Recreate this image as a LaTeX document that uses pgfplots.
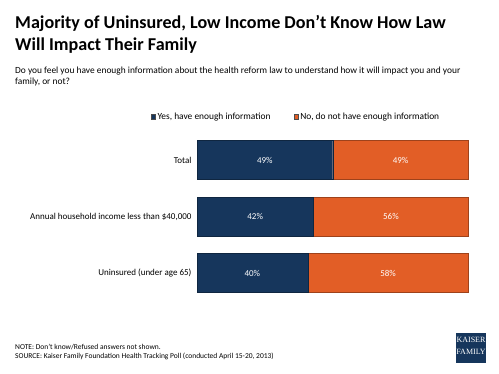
\documentclass[border=0pt]{standalone}
\usepackage{pgfplots}
\pgfplotsset{compat=1.18}
\usepackage{fontspec}
\setmainfont{Carlito}
\newfontfamily\logofont{Liberation Serif}
\definecolor{navy}{RGB}{22,54,92}
\definecolor{orng}{RGB}{226,94,38}
\begin{document}
\begin{tikzpicture}
\path[use as bounding box] (0,0) rectangle (499bp,-374bp);
% title
\node[anchor=base west, inner sep=0, font=\fontsize{18.1bp}{22bp}\selectfont\bfseries] at (15bp,-28bp) {Majority of Uninsured, Low Income Don’t Know How Law};
\node[anchor=base west, inner sep=0, font=\fontsize{18.1bp}{22bp}\selectfont\bfseries] at (15bp,-50bp) {Will Impact Their Family};
% subtitle
\node[anchor=base west, inner sep=0, font=\fontsize{9.4bp}{11bp}\selectfont] at (15bp,-73bp) {Do you feel you have enough information about the health reform law to understand how it will impact you and your};
\node[anchor=base west, inner sep=0, font=\fontsize{9.4bp}{11bp}\selectfont] at (15bp,-84bp) {family, or not?};
\begin{axis}[
  at={(197bp,-131.75bp)}, anchor=north west,
  scale only axis, width=277bp, height=169.5bp,
  xbar stacked, bar width=39bp,
  xmin=0, xmax=100, ymin=-0.5, ymax=2.5, y dir=reverse,
  ytick={0,1,2},
  yticklabels={{Total}, {Annual household income less than \$40,000}, {Uninsured (under age 65)}},
  yticklabel style={font=\fontsize{9bp}{10bp}\selectfont, xshift=-2bp},
  xtick=\empty,
  axis line style={draw=none}, major tick length=0pt,
  legend columns=2,
  legend style={at={(-0.168,1.09)}, anchor=west, draw=none, inner sep=0pt,
    font=\fontsize{9.4bp}{10bp}\selectfont, /tikz/every even column/.append style={column sep=21bp}},
  legend image code/.code={\draw[#1, draw=black!70, line width=0.3pt] (0bp,-2.3bp) rectangle (4.6bp,2.3bp);},
  clip=false,
  visualization depends on=rawx \as \rawx,
  nodes near coords={\pgfmathprintnumber[assume math mode=true, fixed, precision=0]{\rawx}\%},
  every node near coord/.append style={anchor=center, text=white,
    font=\fontsize{9bp}{10bp}\selectfont},
]
\addplot[fill=navy, draw=navy!70!black, line width=0.4pt] coordinates {(49,0) (42,1) (40,2)};
\addplot[fill=orng, draw=orng!70!black, line width=0.4pt] coordinates {(49,0) (56,1) (58,2)};
\legend{{Yes, have enough information}, {No, do not have enough information}}
\end{axis}
% footer
\node[anchor=base west, inner sep=0, font=\fontsize{7.5bp}{8bp}\selectfont] at (15bp,-349.5bp) {NOTE: Don’t know/Refused answers not shown.};
\node[anchor=base west, inner sep=0, font=\fontsize{7.5bp}{8bp}\selectfont] at (15bp,-358.5bp) {SOURCE: Kaiser Family Foundation Health Tracking Poll (conducted April 15-20, 2013)};
% logo
\fill[navy] (456bp,-333bp) rectangle (486bp,-363bp);
\node[text=white, inner sep=0, align=center, font=\logofont] at (471bp,-348bp) {%
  {\fontsize{3bp}{3.5bp}\selectfont THE HENRY J.}\\[0.3bp]
  {\fontsize{8bp}{7.5bp}\selectfont KAISER}\\
  {\fontsize{8bp}{7.5bp}\selectfont FAMILY}\\[0.3bp]
  {\fontsize{3bp}{3.5bp}\selectfont FOUNDATION}};
\end{tikzpicture}
\end{document}
